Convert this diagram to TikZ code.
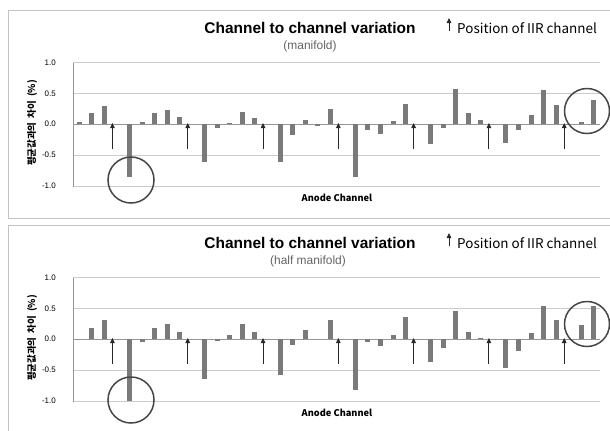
\documentclass[tikz,border=0pt]{standalone}
\usepackage{fontspec}
\setmainfont{Liberation Sans}
\newfontfamily\krfont{Noto Sans CJK KR}
\usetikzlibrary{arrows.meta}
\definecolor{barc}{RGB}{122,122,122}
\definecolor{gridc}{RGB}{204,204,204}
\definecolor{framec}{RGB}{195,195,195}
\definecolor{zeroc}{RGB}{150,150,150}
\definecolor{ringc}{RGB}{70,70,70}
\definecolor{arrc}{RGB}{40,40,40}
\definecolor{subc}{RGB}{100,100,100}
\tikzset{
  frame/.style={draw=framec, line width=1bp},
  gridl/.style={draw=gridc, line width=0.9bp},
  zerol/.style={draw=zeroc, line width=0.9bp},
  axisl/.style={draw=zeroc, line width=0.9bp},
  barfill/.style={fill=barc},
  iirarrow/.style={draw=arrc, line width=0.9bp, -{Triangle[length=5bp,width=4.5bp]}},
  ring/.style={draw=ringc, line width=1.5bp},
  titletext/.style={font=\bfseries\fontsize{15.5}{18}\selectfont, inner sep=0pt, anchor=base},
  subtext/.style={text=subc, font=\fontsize{12}{14}\selectfont, inner sep=0pt, anchor=base},
  legtext/.style={font=\krfont\fontsize{13.5}{16}\selectfont, inner sep=0pt, anchor=base west},
  ticktext/.style={font=\fontsize{8}{9}\selectfont, inner sep=0pt, anchor=east},
  xtitle/.style={font=\krfont\bfseries\fontsize{9.3}{11}\selectfont, inner sep=0pt, anchor=base},
  ytitle/.style={font=\krfont\bfseries\fontsize{9.5}{11}\selectfont, inner sep=0pt, rotate=90}
}
\newcommand{\mypanel}[6]{%
  % #1 suffix, #2 subtitle, #3 values, #4 sub x, #5 circle1 y, #6 circle2 y
  \foreach \gv in {1,0.5,-0.5,-1} {\draw[gridl] (73,{124-62*\gv}) -- (600,{124-62*\gv});}
  \draw[axisl] (73,63) -- (73,187);
  \draw[zerol] (73,124) -- (600,124);
  \node[ticktext] (y1#1) at (56,63) {1.0};
  \node[ticktext] (y2#1) at (56,94) {0.5};
  \node[ticktext] (y3#1) at (56,124) {0.0};
  \node[ticktext] (y4#1) at (56,155) {-0.5};
  \node[ticktext] (y5#1) at (56,186) {-1.0};
  \foreach \v [count=\i from 0] in {#3} {
    \fill[barfill] ({73+12.55*(\i+0.5)-2.5},124) rectangle ++(5,{-62*\v});
  }
  \foreach \k in {3,9,15,21,27,33,39} {
    \coordinate (a\k#1) at ({73+12.55*(\k+0.5)-4.5},149);
    \coordinate (b\k#1) at ({73+12.55*(\k+0.5)-4.5},123);
    \draw[iirarrow] (a\k#1) -- (b\k#1);
  }
  \draw[ring] (131,#5) circle[radius=23bp];
  \draw[ring] (587,#6) circle[radius=22.5bp];
  \node[titletext] (title#1) at (310,33) {Channel to channel variation};
  \node[subtext] (sub#1) at (#4,49) {#2};
  \coordinate (la#1) at (449,31);
  \coordinate (lb#1) at (449,18);
  \draw[iirarrow] (la#1) -- (lb#1);
  \node[legtext] (leg#1) at (457,33) {Position of IIR channel};
  \node[xtitle] (xt#1) at (337,201) {Anode Channel};
  \node[ytitle] (yt#1) at (32,123) {평균값과의\, 차이\ \ (\%)};
}
\begin{document}
\begin{tikzpicture}[x=1bp,y=-1bp]
\useasboundingbox (0,0) rectangle (610,430);
\fill[white] (0,0) rectangle (610,430);
\clip (0,0) rectangle (610,430);
\draw[frame] (8,10) rectangle (620,218);
\draw[frame] (8,225) rectangle (620,450);
\begin{scope}
\mypanel{t}{(manifold)}{0.04,0.18,0.29,0,-0.86,0.03,0.18,0.23,0.12,0,-0.62,-0.07,0.02,0.19,0.09,0,-0.62,-0.17,0.07,-0.04,0.24,0,-0.86,-0.10,-0.16,0.05,0.33,0,-0.33,-0.07,0.56,0.18,0.07,0,-0.31,-0.09,0.14,0.55,0.30,0,0.03,0.38}{310}{180}{111}
\end{scope}
\begin{scope}[shift={(0,215)}]
\mypanel{b}{(half manifold)}{0,0.18,0.30,0,-1.0,-0.05,0.18,0.24,0.11,0,-0.64,-0.04,0.07,0.24,0.12,0,-0.58,-0.10,0.15,0,0.30,0,-0.83,-0.05,-0.12,0.07,0.35,0,-0.37,-0.15,0.45,0.11,0.02,0,-0.46,-0.20,0.09,0.53,0.30,0,0.23,0.53}{308}{185}{109}
\end{scope}
\end{tikzpicture}
\end{document}
